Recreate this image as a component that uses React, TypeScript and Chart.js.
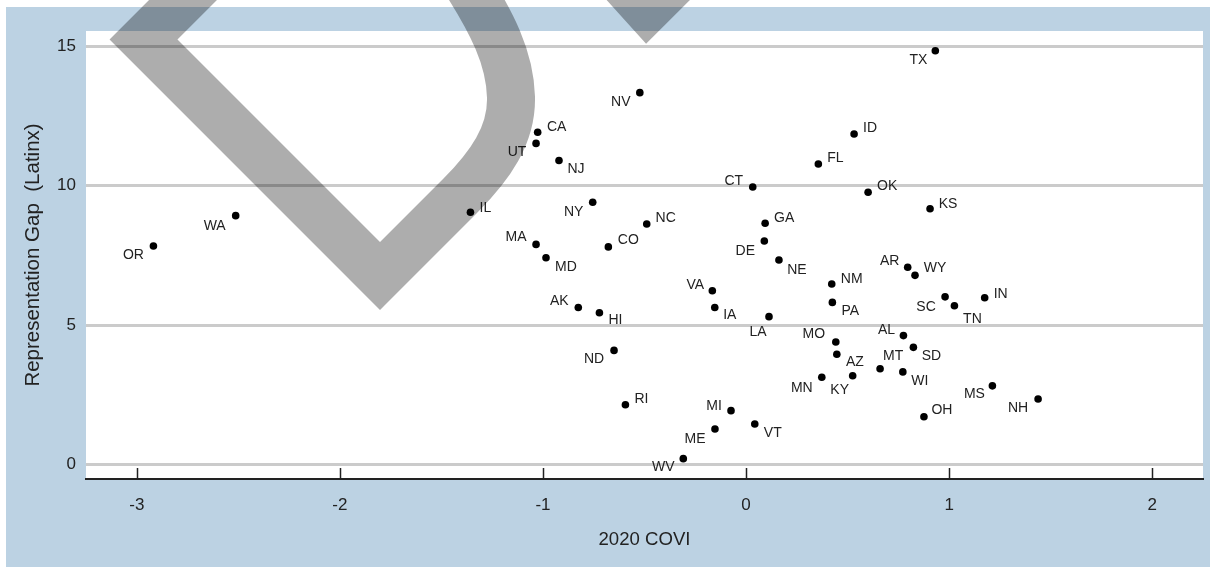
import React, { useEffect, useRef } from "react";
import { Chart, registerables } from "chart.js";

Chart.register(...registerables);

// ---------- data ----------
const STATES = [
  "OR", "WA", "IL", "CA", "UT", "NJ", "NV", "NY", "MA", "MD",
  "CO", "NC", "CT", "GA", "DE", "NE", "VA", "AK", "HI", "IA",
  "LA", "ND", "RI", "MI", "ME", "VT", "WV", "TX", "ID", "FL",
  "OK", "KS", "AR", "WY", "NM", "PA", "SC", "TN", "IN", "MO",
  "AL", "SD", "AZ", "MT", "WI", "KY", "MN", "OH", "MS", "NH",
];
const COVI = [
  -2.918, -2.513, -1.357, -1.026, -1.034, -0.921, -0.523, -0.755, -1.034, -0.985,
  -0.678, -0.489, 0.033, 0.094, 0.09, 0.162, -0.166, -0.826, -0.722, -0.154,
  0.113, -0.65, -0.594, -0.074, -0.153, 0.043, -0.309, 0.932, 0.532, 0.356,
  0.601, 0.906, 0.796, 0.832, 0.422, 0.425, 0.98, 1.026, 1.175, 0.442,
  0.775, 0.824, 0.447, 0.66, 0.772, 0.525, 0.373, 0.876, 1.213, 1.438,
];
const GAP = [
  7.83, 8.92, 9.04, 11.91, 11.51, 10.9, 13.33, 9.4, 7.89, 7.41,
  7.8, 8.62, 9.95, 8.65, 8.01, 7.33, 6.23, 5.63, 5.44, 5.63,
  5.3, 4.09, 2.14, 1.93, 1.27, 1.45, 0.21, 14.83, 11.85, 10.77,
  9.76, 9.17, 7.07, 6.78, 6.47, 5.81, 6.01, 5.69, 5.98, 4.39,
  4.62, 4.2, 3.95, 3.43, 3.32, 3.18, 3.13, 1.71, 2.82, 2.35,
];
const X_TICKS = [-3, -2, -1, 0, 1, 2];
const Y_TICKS = [0, 5, 10, 15];
const X_TITLE = "2020 COVI";
const Y_TITLE = "Representation Gap  (Latinx)";

// ---------- styling ----------
// label offsets (px) relative to each marker
const LABEL_OFFSET: Record<string, [number, number]> = {
  OR: [-20, 9], WA: [-21, 10], IL: [15, -4], CA: [19, -5], UT: [-19, 9],
  NJ: [17, 9], NV: [-19, 9], NY: [-19, 10], MA: [-20, -7], MD: [20, 9],
  CO: [20, -7], NC: [19, -6], CT: [-19, -6], GA: [19, -5], DE: [-19, 10],
  NE: [18, 10], VA: [-17, -6], AK: [-19, -6], HI: [16, 7], IA: [15, 8],
  LA: [-11, 15], ND: [-20, 9], RI: [16, -6], MI: [-17, -5], ME: [-20, 10],
  VT: [18, 9], WV: [-20, 9], TX: [-17, 9], ID: [16, -6], FL: [17, -6],
  OK: [19, -6], KS: [18, -5], AR: [-18, -6], WY: [20, -7], NM: [20, -5],
  PA: [18, 9], SC: [-19, 10], TN: [18, 13], IN: [16, -4], MO: [-22, -8],
  AL: [-17, -5], SD: [18, 9], AZ: [18, 8], MT: [13, -13], WI: [17, 9],
  KY: [-13, 14], MN: [-20, 11], OH: [18, -7], MS: [-18, 8], NH: [-20, 9],
};

const W = 1211;
const H = 567;
const BLUE = "#bcd2e3";
const TEXT = "#222222";
const FONT = "'Liberation Sans', Arial, sans-serif";

// decorative translucent overlay stroke (page pixels)
const OVERLAY_WIDTH = 48;
const OVERLAY_COLOR = "rgba(0,0,0,0.32)";

const bgPlugin = {
  id: "bgPlugin",
  beforeDraw(chart: any) {
    const { ctx, chartArea: a } = chart;
    ctx.save();
    ctx.fillStyle = "#ffffff";
    ctx.fillRect(0, 0, chart.width, chart.height);
    ctx.fillStyle = BLUE;
    ctx.fillRect(6, 7, 1204, 560);
    ctx.fillStyle = "#ffffff";
    ctx.fillRect(a.left, a.top, a.right - a.left, a.bottom - a.top);
    ctx.restore();
  },
};

const labelPlugin = {
  id: "labelPlugin",
  afterDatasetsDraw(chart: any) {
    const { ctx } = chart;
    const meta = chart.getDatasetMeta(0);
    ctx.save();
    ctx.font = `14px ${FONT}`;
    ctx.fillStyle = TEXT;
    ctx.textAlign = "center";
    ctx.textBaseline = "middle";
    meta.data.forEach((pt: any, i: number) => {
      const s = STATES[i];
      const off = LABEL_OFFSET[s] || [18, -6];
      ctx.fillText(s, pt.x + off[0], pt.y + off[1]);
    });
    ctx.restore();
  },
};

const tickPlugin = {
  id: "tickPlugin",
  afterDraw(chart: any) {
    const { ctx, chartArea: a } = chart;
    const xs = chart.scales.x;
    ctx.save();
    ctx.strokeStyle = TEXT;
    ctx.lineWidth = 1.5;
    X_TICKS.forEach((v) => {
      const px = Math.round(xs.getPixelForValue(v)) + 0.5;
      ctx.beginPath();
      ctx.moveTo(px, a.bottom - 11);
      ctx.lineTo(px, a.bottom);
      ctx.stroke();
    });
    ctx.restore();

    // overlay stroke
    ctx.save();
    ctx.strokeStyle = OVERLAY_COLOR;
    ctx.lineWidth = OVERLAY_WIDTH;
    ctx.lineJoin = "miter";
    ctx.miterLimit = 10;
    ctx.lineCap = "butt";
    ctx.beginPath();
    ctx.moveTo(223, -40);
    ctx.lineTo(143.5, 39.5);
    ctx.lineTo(380, 276);
    ctx.lineTo(460, 196);
    ctx.bezierCurveTo(490, 166, 512, 135, 511, 97);
    ctx.bezierCurveTo(510, 60, 495, 25, 455, -35);
    ctx.stroke();
    ctx.beginPath();
    ctx.moveTo(602, -41);
    ctx.lineTo(647, 9);
    ctx.lineTo(700, -44);
    ctx.stroke();
    ctx.restore();
  },
};

export default function App() {
  const ref = useRef<HTMLCanvasElement | null>(null);

  useEffect(() => {
    document.body.style.margin = "0";
    const canvas = ref.current;
    if (!canvas) return;
    const chart = new Chart(canvas, {
      type: "scatter",
      data: {
        datasets: [
          {
            data: COVI.map((x, i) => ({ x, y: GAP[i] })),
            backgroundColor: "#000000",
            borderWidth: 0,
            pointRadius: 3.8,
            pointHoverRadius: 3.8,
          },
        ],
      },
      options: {
        animation: false,
        responsive: false,
        devicePixelRatio: 1,
        events: [],
        layout: { padding: { left: 6, right: 8, top: 31, bottom: 0 } },
        plugins: { legend: { display: false }, tooltip: { enabled: false } },
        scales: {
          x: {
            type: "linear",
            min: -3.25,
            max: 2.25,
            afterBuildTicks: (s: any) => {
              s.ticks = X_TICKS.map((v) => ({ value: v }));
            },
            afterFit: (s: any) => {
              s.height = 88;
            },
            grid: { display: false, drawTicks: false },
            border: { display: true, color: TEXT, width: 2 },
            ticks: {
              padding: 15.8,
              color: TEXT,
              font: { family: FONT, size: 17 },
              maxRotation: 0,
              autoSkip: false,
              callback: (v: any) => String(v),
            },
            title: {
              display: true,
              text: X_TITLE,
              color: TEXT,
              font: { family: FONT, size: 18.6 },
              padding: { top: 0, bottom: 15.8 },
            },
          },
          y: {
            type: "linear",
            min: -0.52,
            max: 15.54,
            afterBuildTicks: (s: any) => {
              s.ticks = Y_TICKS.map((v) => ({ value: v }));
            },
            afterFit: (s: any) => {
              s.width = 80;
            },
            grid: { display: true, color: "#cbcbcb", lineWidth: 3, drawTicks: false },
            border: { display: false },
            ticks: {
              padding: 10,
              color: TEXT,
              font: { family: FONT, size: 17 },
              autoSkip: false,
              callback: (v: any) => String(v),
            },
            title: {
              display: true,
              text: Y_TITLE,
              color: TEXT,
              font: { family: FONT, size: 20.5 },
              padding: { top: 14.7, bottom: 0 },
            },
          },
        },
      },
      plugins: [bgPlugin, labelPlugin, tickPlugin],
    });
    return () => chart.destroy();
  }, []);

  return <canvas ref={ref} width={W} height={H} style={{ display: "block" }} />;
}
